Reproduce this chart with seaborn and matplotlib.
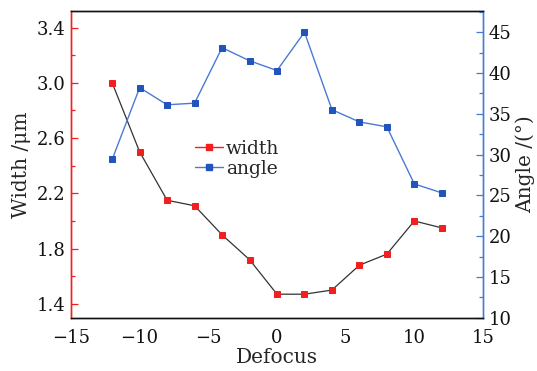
import matplotlib.pyplot as plt
import pandas as pd
import seaborn as sns
from matplotlib.lines import Line2D
from matplotlib.ticker import MultipleLocator

sns.set_theme(style='white')
plt.rcParams['font.family'] = ['DejaVu Serif']
plt.rcParams['mathtext.fontset'] = 'dejavuserif'

defocus = [-12, -10, -8, -6, -4, -2, 0, 2, 4, 6, 8, 10, 12]
width = [3.00, 2.50, 2.15, 2.11, 1.90, 1.72, 1.47, 1.47, 1.50, 1.68, 1.76, 2.00, 1.95]
angle = [29.4, 38.2, 36.1, 36.3, 43.1, 41.5, 40.3, 45.0, 35.5, 34.0, 33.4, 26.4, 25.3]

red = '#f02020'
blue = '#2255bb'
blue_line = '#4a7ad6'

tbl = pd.DataFrame({'defocus': defocus, 'width': width, 'angle': angle})

fig = plt.figure(figsize=(5.37, 3.71), dpi=100)
ax1 = fig.add_axes([0.1322, 0.1437, 0.7672, 0.8267])
ax2 = ax1.twinx()

sns.lineplot(data=tbl, x='defocus', y='width', ax=ax1, color='#333333', lw=0.9,
             marker='s', markersize=5, markerfacecolor=red, markeredgecolor=red, estimator=None)
sns.lineplot(data=tbl, x='defocus', y='angle', ax=ax2, color=blue_line, lw=1.0,
             marker='s', markersize=5, markerfacecolor=blue, markeredgecolor=blue, estimator=None)

ax1.set_xlim(-15, 15)
ax1.set_ylim(1.3, 3.52)
ax2.set_ylim(10, 47.6)

ax1.xaxis.set_major_locator(MultipleLocator(5))
ax1.xaxis.set_minor_locator(MultipleLocator(2.5))
ax1.yaxis.set_major_locator(MultipleLocator(0.4))
ax1.yaxis.set_minor_locator(MultipleLocator(0.2))
ax2.yaxis.set_major_locator(MultipleLocator(5))
ax2.yaxis.set_minor_locator(MultipleLocator(2.5))

ax1.set_xticks([-15, -10, -5, 0, 5, 10, 15])
ax1.set_xticklabels(['\u221215', '\u221210', '\u22125', '0', '5', '10', '15'])
ax1.set_yticks([1.4, 1.8, 2.2, 2.6, 3.0, 3.4])
ax1.set_yticklabels(['1.4', '1.8', '2.2', '2.6', '3.0', '3.4'])

for ax in (ax1, ax2):
    ax.tick_params(which='both', direction='in', labelsize=13, colors='#111111', pad=4)
    ax.tick_params(which='major', length=5, width=0.9)
    ax.tick_params(which='minor', length=3, width=0.9)
ax1.tick_params(axis='x', which='both', pad=8, top=False)
ax1.tick_params(axis='y', which='both', color=red)
ax2.tick_params(axis='y', which='both', color=blue_line)

ax1.spines['left'].set_color(red)
ax2.spines['left'].set_color(red)
ax2.spines['right'].set_color(blue_line)
ax1.spines['right'].set_color(blue_line)
for ax in (ax1, ax2):
    ax.spines['top'].set_color('#111111')
    ax.spines['bottom'].set_color('#111111')
    for s in ax.spines.values():
        s.set_linewidth(1.0)

ax1.set_xlabel('Defocus', fontsize=14.5, labelpad=1)
ax1.set_ylabel('Width /\u03bcm', fontsize=14.5, labelpad=4)
ax2.set_ylabel('Angle /(\u00b0)', fontsize=14.5, rotation=90, labelpad=3)

handles = [
    Line2D([], [], color=red, lw=1.0, marker='s', markersize=5, markerfacecolor=red, markeredgecolor=red),
    Line2D([], [], color=blue_line, lw=1.0, marker='s', markersize=5, markerfacecolor=blue, markeredgecolor=blue),
]
ax1.legend(handles, ['width', 'angle'], loc='upper left', bbox_to_anchor=(0.26, 0.635),
           frameon=False, fontsize=13.5, handlelength=1.5, handletextpad=0.15, labelspacing=0.1)

plt.savefig('out.png', dpi=100)
